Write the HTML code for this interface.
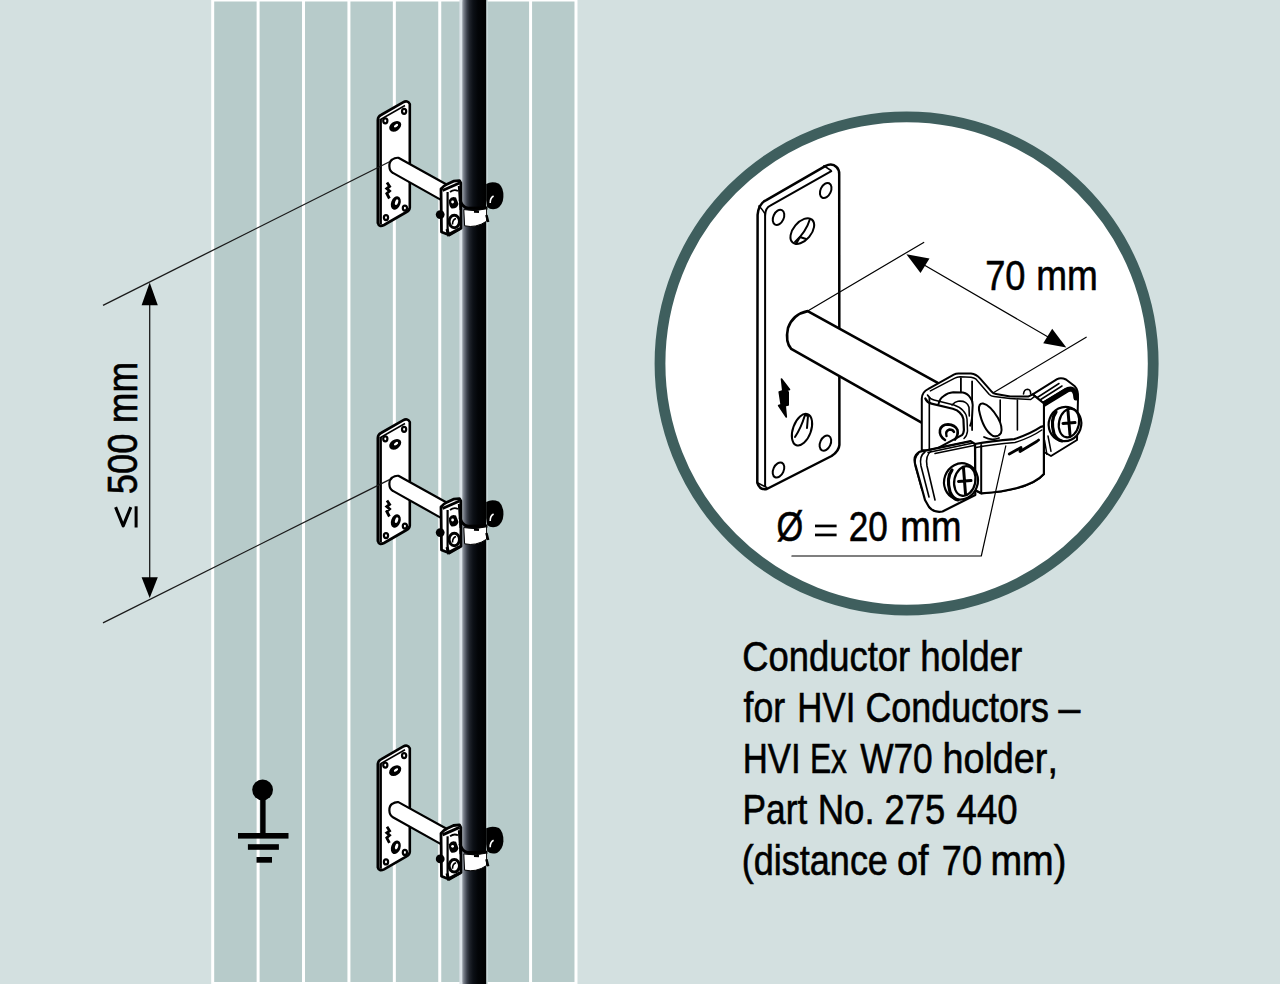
<!DOCTYPE html>
<html><head><meta charset="utf-8"><title>HVI Conductor holder</title>
<style>
html,body{margin:0;padding:0;background:#d3e0e0;}
body{width:1280px;height:984px;overflow:hidden;}
svg{display:block;}
text{font-family:"Liberation Sans",sans-serif;fill:#000;font-kerning:none;}
</style></head>
<body>
<svg width="1280" height="984" viewBox="0 0 1280 984">
<defs>
<linearGradient id="cab" x1="0" x2="1" y1="0" y2="0">
<stop offset="0" stop-color="#9a9fa9"/>
<stop offset="0.09" stop-color="#6a707b"/>
<stop offset="0.2" stop-color="#3a3f4a"/>
<stop offset="0.3" stop-color="#20242c"/>
<stop offset="0.45" stop-color="#0c1016"/>
<stop offset="0.65" stop-color="#030508"/>
<stop offset="1" stop-color="#000"/>
</linearGradient>
</defs>
<!-- background -->
<rect x="0" y="0" width="1280" height="984" fill="#d3e0e0"/>
<!-- wall -->
<rect x="211.20" y="0" width="366.28" height="984" fill="#fff"/>
<g fill="#b7cbca">
<rect x="214.20" y="1.5" width="42.41" height="980.5"/>
<rect x="259.61" y="1.5" width="42.41" height="980.5"/>
<rect x="305.02" y="1.5" width="42.41" height="980.5"/>
<rect x="350.43" y="1.5" width="42.41" height="980.5"/>
<rect x="395.84" y="1.5" width="42.41" height="980.5"/>
<rect x="441.25" y="1.5" width="42.41" height="980.5"/>
<rect x="486.66" y="1.5" width="42.41" height="980.5"/>
<rect x="532.07" y="1.5" width="42.41" height="980.5"/>
</g>
<!-- cable -->
<rect x="459.4" y="0" width="3" height="984" fill="#dce3e8"/>
<rect x="486" y="0" width="1.8" height="984" fill="#cddcdc"/>
<rect x="462.3" y="0" width="23.9" height="984" fill="url(#cab)"/>

<!-- wall brackets -->
<g id="br">
<path d="M377.8 120 Q378 116.5 381 115 L403 102.3 Q407.5 99.8 409.8 104 L409.8 207.5 Q409.5 210.5 406.5 212 L384 225 Q379 227.5 377.8 223 Z" fill="#fff" stroke="#000" stroke-width="2.6" stroke-linejoin="round"/>
<line x1="380.6" y1="119" x2="380.6" y2="224.5" stroke="#000" stroke-width="2.6"/>
<path d="M380.5 119.5 L405 105.5" stroke="#000" stroke-width="1.6" fill="none"/>
<g fill="#fff" stroke="#000" stroke-width="2.2">
<ellipse cx="385.3" cy="120.8" rx="2.1" ry="2.5"/>
<ellipse cx="404.1" cy="111.3" rx="2.1" ry="2.5"/>
<ellipse cx="386" cy="217.6" rx="2.1" ry="2.5"/>
<ellipse cx="404.9" cy="208.1" rx="2.1" ry="2.5"/>
</g>
<ellipse cx="395.2" cy="126.3" rx="6.6" ry="4.7" transform="rotate(-35 395.2 126.3)" fill="#000"/>
<ellipse cx="396" cy="125.7" rx="2.4" ry="1.3" transform="rotate(-35 396 125.7)" fill="#fff"/>
<ellipse cx="395.8" cy="203" rx="4.7" ry="7" transform="rotate(20 395.8 203)" fill="#000"/>
<ellipse cx="396.6" cy="202.2" rx="1.5" ry="3" transform="rotate(20 396.6 202.2)" fill="#fff"/>
<path d="M387 182.5 L389.6 186.5 L386.8 188.5 L389.6 191 L386.8 193.5 L389.4 198.5" fill="none" stroke="#000" stroke-width="2.8"/>
<!-- rod -->
<path d="M398.4 157.8 L447.5 185 L440.5 199.6 L392.9 172.9 C388.3 170.5 388.3 162 392.3 159.5 C394 158.2 396 157.6 398.4 157.8 Z" fill="#fff" stroke="#000" stroke-width="2.2" stroke-linejoin="round"/>
<!-- saddle -->
<path d="M441 189 Q444 185.5 447 184.3 L453.5 181.2 L459.5 180.6 L460.8 183 L461 228.3 L449.2 235 L441.5 232 Z" fill="#fff" stroke="#000" stroke-width="2.8" stroke-linejoin="round"/>
<path d="M442.5 190.5 L459.5 183" stroke="#000" stroke-width="3" fill="none"/>
<path d="M447.6 192 L447.6 233" stroke="#000" stroke-width="2.2" fill="none"/>
<path d="M450 192 Q454 189 458 191" stroke="#000" stroke-width="1.8" fill="none"/>
<path d="M449 200 Q451.5 195.5 456 197.5 L458.5 204 Q457 209 451.5 208.5 Q448.5 206 449 200 Z" fill="#000"/>
<circle cx="452.6" cy="202" r="1.4" fill="#fff"/>
<circle cx="440.2" cy="214.6" r="4.4" fill="#000"/>
<ellipse cx="454.3" cy="221.5" rx="5.2" ry="6.2" fill="#fff" stroke="#000" stroke-width="3"/>
<path d="M452.5 224.5 Q452.5 219.5 456 218.5" stroke="#000" stroke-width="1.6" fill="none"/>
<path d="M447 229 L448.5 234.5 L460 228.5" fill="none" stroke="#000" stroke-width="3"/>
<path d="M458.8 186 L460.5 210" stroke="#000" stroke-width="2" fill="none"/>
<!-- band -->
<path d="M460 199.5 Q461.5 207 468 208.3 L487.5 208" fill="none" stroke="#000" stroke-width="3"/>
<path d="M463.8 209.6 Q475 212 486.6 208.8 L486.6 221.2 Q476 228.4 464.6 225.8 Z" fill="#fff" stroke="#000" stroke-width="1"/>
<path d="M474 211.5 L479 211.8" stroke="#000" stroke-width="2.4"/>
<!-- right knob -->
<path d="M486.2 184 Q492 180.8 499 183.8 Q503.8 188 503.4 197 Q503 205 497 208.6 Q491 210.5 487.2 207 L486.2 200 Z" fill="#000"/>
<path d="M490.2 203 Q490 198 493.6 196" fill="none" stroke="#fff" stroke-width="1.6"/>
<path d="M486.4 215 L488.2 222" stroke="#000" stroke-width="2.5"/>
</g>
<use href="#br" transform="translate(0,318)"/>
<use href="#br" transform="translate(0,644.3)"/>

<!-- dimension on left -->
<g stroke="#1a1a1a" stroke-width="1.3" fill="none">
<line x1="103" y1="305.3" x2="390" y2="161.5"/>
<line x1="103" y1="622.8" x2="390" y2="479.4"/>
<line x1="149.7" y1="300" x2="149.7" y2="580"/>
</g>
<path d="M149.7 282.5 L157.8 305.3 L141.6 305.3 Z" fill="#000"/>
<path d="M149.7 598 L157.8 577.3 L141.6 577.3 Z" fill="#000"/>

<!-- inset -->
<circle cx="906.6" cy="363.5" r="246.6" fill="#fff" stroke="#3f5f5e" stroke-width="10.8"/>
<g id="inset" stroke="#000" stroke-linejoin="round" stroke-linecap="round">
<!-- plate -->
<path d="M757.6 214.9 Q758.5 203.5 766.3 200.1 L825.2 166.1 Q832 162.5 836.5 167 Q839.2 169.5 839.2 174 L839.4 444.8 Q839 451 831.6 456 L766.8 489 Q760 490.5 757.3 482.8 Z" fill="#fff" stroke-width="2.5"/>
<path d="M765.2 214.9 Q765.5 208 770.3 205.7 L831.3 171.2" fill="none" stroke-width="2"/>
<path d="M765.1 214.9 L765.1 486" fill="none" stroke-width="2"/>
<path d="M757.8 483 L766.8 487.5" fill="none" stroke-width="1.6"/>
<path d="M759 206 Q762 209 765.2 214" fill="none" stroke-width="1.6"/>
<path d="M824 165.8 L831 170.5" fill="none" stroke-width="1.6"/>
<!-- holes -->
<g fill="none" stroke-width="2">
<ellipse cx="778.5" cy="217.4" rx="5.2" ry="8" transform="rotate(25 778.5 217.4)"/>
<ellipse cx="825.7" cy="190.5" rx="5.2" ry="8" transform="rotate(25 825.7 190.5)"/>
<ellipse cx="825.4" cy="443.1" rx="5.2" ry="8" transform="rotate(25 825.4 443.1)"/>
<ellipse cx="778.5" cy="470" rx="5.2" ry="8" transform="rotate(25 778.5 470)"/>
<ellipse cx="802.3" cy="231.1" rx="15" ry="9" transform="rotate(-50 802.3 231.1)"/>
<path d="M795 242 Q806 232 810 219" />
<path d="M796 244 L800 237 L806 239"/>
<ellipse cx="802" cy="429.7" rx="16.5" ry="9" transform="rotate(-70 802 429.7)"/>
<path d="M795 437 Q801 428 805 415"/>
<path d="M805 415 L808 416 L807 428"/>
</g>
<path d="M781.5 379 L789.5 389.6 L786.5 390.6 L788.2 392 L788.2 405 L785.2 405.8 L786.3 417 L778.6 405.6 L781.2 404.8 L779.2 392 L782.8 390.8 Z" fill="#000" stroke-width="1.6"/>
<!-- extension lines 70mm -->
<g stroke-width="1.2" fill="none">
<line x1="807.7" y1="311.1" x2="923.7" y2="242.4"/>
<line x1="993.7" y1="392.5" x2="1086.2" y2="337.2"/>
<line x1="916" y1="260.3" x2="1055" y2="341"/>
</g>
<path d="M906.4 254.2 L929.5 258.5 L920.5 273 Z" fill="#000" stroke="none"/>
<path d="M1066.3 347.5 L1043.2 343.2 L1052.2 328.7 Z" fill="#000" stroke="none"/>
<!-- rod -->
<path d="M807.7 311.1 L945 386.8 L930 427.4 L791.2 348.8 Q785 342 788 328 Q793 314 807.7 311.1 Z" fill="#fff" stroke-width="2.6"/>
<!-- clamp -->
<g id="clamp" stroke-width="2" fill="#fff" stroke-linecap="round">
<!-- right ear back stack -->
<path d="M1032.7 394.4 L1057.1 379.1 Q1061 377 1066 379.5 L1074.5 386 Q1078.5 390 1078 398 L1077 440 L1051 456 L1044 452 L1043.9 403.5 Z"/>
<path d="M1034.2 399.5 L1059 383.5 M1036.8 402 L1062 386 M1039.5 404.5 L1065.5 388.6" fill="none" stroke-width="1.5"/>
<path d="M1041 406 L1068 389.5 Q1073.5 387.5 1075.5 394 L1076 398" fill="none" stroke-width="5.2"/>
<path d="M1046.9 454.3 L1044.5 440 M1051 451.3 L1048 436" fill="none" stroke-width="1.5"/>
<!-- main U body (white fill) -->
<path d="M921.8 450 L921.8 398.5 Q922 392 928.4 388.9 L953.8 374.7 Q956 373.5 959 373.6 L971 373.6 Q976 374 980.2 378.7 L991.4 391.4 Q993 393.5 996 394 L1010.3 396.4 L1028.6 396.4 L1032.7 394.4 L1043.9 403.5 L1043.9 474 Q1030 490 981.2 493.3 L975 490 L975 444 L935 452 Z"/>
<path d="M930.4 390.9 L954.8 378.2 Q957 376.8 960 376.7 L971 377.2 Q974 377.8 976.1 379.2 L989.3 394.5 Q991 396.2 994 396.5 L1010 398.5 L1030.7 399.5 L1034.7 396.4" fill="none" stroke-width="1.5"/>
<path d="M929.4 398 L929.4 449" fill="none" stroke-width="1.8"/>
<path d="M960.9 378.2 L960.9 398.5 M972.1 381.3 L972.1 430" fill="none" stroke-width="1.8"/>
<path d="M1000.2 400 L1000.2 432 M1017.4 400 L1017.4 430" fill="none" stroke-width="1.6"/>
<!-- small nub on top right -->
<path d="M1023.5 394 Q1024 389.5 1027.5 389.3 Q1030.7 389.5 1030.7 394" stroke-width="1.6"/>
<!-- bolt/washer behind front strap -->
<path d="M938.5 404 Q940 398 943.4 396.3 Q948 392.5 953.2 392.2 L962.9 392.4 Q968 393.5 970.2 397.6 Q973 401 972.7 405 L972 418.3 Q971.5 423 970.2 425.6" stroke-width="2"/>
<path d="M952 405 Q955 401.5 958 401.2 Q963 400.8 965.4 402.4 Q968 404 969 407.3 L969.3 416" fill="none" stroke-width="1.6"/>
<!-- teardrop -->
<path d="M979 410 Q978.5 403 983 403.6 Q990 405 998 418 Q1003 427 1001 433 Q998 437.5 993 436 Q983 430 979 410 Z" stroke-width="2"/>
<path d="M984 437 Q991 441 999 438" fill="none" stroke-width="1.8"/>
<!-- front S-strap -->
<path d="M925.3 398.5 L931.4 403.6 L952.8 408.7 Q957.5 410 959.9 412.8 Q963 415.5 963.4 419 L963.9 430 Q963.5 434 961.9 435.1 L935.5 449.4 L930.4 449 L930.4 404.5 Z" fill="#fff" stroke="none"/>
<path d="M925.3 398.5 Q927 402.5 931.4 403.6 L952.8 408.7 Q957.5 410 959.9 412.8 Q963 415.5 963.4 419 L963.9 430 Q963.5 434 961.9 435.1 L935.5 449.4" fill="none" stroke-width="2.2"/>
<path d="M927.5 395 Q930 399 934 400 L954 405 Q960 407 963 410.5 Q966.5 414 967 419 L967.5 431 Q967 436 964 438.5" fill="none" stroke-width="1.5"/>
<path d="M945 440 Q939 436 940 430 Q941.5 424.5 948 424.4 Q955 424.8 957.5 430 Q958.5 435 955 439.5" fill="none" stroke-width="2.6"/>
<path d="M946.5 436 Q945 431 949.5 429.5 Q953 429.5 954 432" fill="none" stroke-width="2.4"/>
<!-- ring front band -->
<path d="M975 444 Q990 441 1014.4 439.1 Q1030 434 1040.8 426.9 L1043.9 426 L1043.9 474 Q1030 490 981.2 493.3 L975 490 Z" stroke-width="2.2"/>
<path d="M976 447.5 Q992 444.5 1015 442.5 Q1031 437.5 1041.8 430" fill="none" stroke-width="1.5"/>
<path d="M981.2 445 L981.2 493.3" fill="none" stroke-width="2"/>
<path d="M1009.3 454 L1021 447.5 L1020 451.5 L1036.7 441.5 L1038.6 440" fill="none" stroke-width="2.8"/>
<!-- left ear stack -->
<path d="M975.3 495.1 L942.5 511.5 Q934 513 929 507 L925 500 L916 467 Q913 459 916 455 Q919 451 923 451.1 L970.6 441.2 L975 444 Z" stroke-width="2.2"/>
<path d="M918.5 453.5 Q913.5 458 915.5 467 L922 490 M925 452 Q919 456 921 466 L929 497 M931 451 Q925 456 927 466 L935 500" fill="none" stroke-width="1.6"/>
<path d="M923 451.1 L970.6 441.2 M928 452.5 L973 443 M935 453.5 L974 445.5" fill="none" stroke-width="1.5"/>
<!-- left screw -->
<ellipse cx="961" cy="481.4" rx="16.8" ry="18.3" transform="rotate(20 961 481.4)" stroke-width="2.2"/>
<path d="M952 470 Q946 478 950 492 Q953 499 958 500" fill="none" stroke-width="3.2"/>
<ellipse cx="964.8" cy="481" rx="10.5" ry="15" transform="rotate(12 964.8 481)" fill="none" stroke-width="2.2"/>
<path d="M963.5 468 L965.5 494 M958.5 481.5 L971 480.5" fill="none" stroke-width="3"/>
<!-- right screw -->
<ellipse cx="1065" cy="424" rx="16.2" ry="17.3" transform="rotate(20 1065 424)" stroke-width="2.2"/>
<path d="M1056 412 Q1050 420 1054 434 Q1057 440 1062 441" fill="none" stroke-width="3.2"/>
<ellipse cx="1069" cy="423" rx="10" ry="14.5" transform="rotate(12 1069 423)" fill="none" stroke-width="2.2"/>
<path d="M1068 411 L1070 435 M1063 423.5 L1075 422.5" fill="none" stroke-width="3"/>
</g>
<!-- leader for diameter -->
<path d="M1005.8 445.9 L981.3 556 L791.9 556" fill="none" stroke-width="1.2"/>
</g>

<!-- texts -->
<g font-size="42.2" class="t" stroke="#000" stroke-width="0.6">
<text lengthAdjust="spacingAndGlyphs" x="742.25" y="670.7" textLength="167.85">Conductor</text>
<text lengthAdjust="spacingAndGlyphs" x="920.15" y="670.7" textLength="102.16">holder</text>
<text lengthAdjust="spacingAndGlyphs" x="743.60" y="722.0" textLength="41.60">for</text>
<text lengthAdjust="spacingAndGlyphs" x="797.35" y="722.0" textLength="57.96">HVI</text>
<text lengthAdjust="spacingAndGlyphs" x="865.38" y="722.0" textLength="183.52">Conductors</text>
<text lengthAdjust="spacingAndGlyphs" x="1058.60" y="722.0" textLength="21.82">–</text>
<text lengthAdjust="spacingAndGlyphs" x="742.65" y="773.4" textLength="57.96">HVI</text>
<text lengthAdjust="spacingAndGlyphs" x="809.90" y="773.4" textLength="37.05">Ex</text>
<text lengthAdjust="spacingAndGlyphs" x="860.14" y="773.4" textLength="72.64">W70</text>
<text lengthAdjust="spacingAndGlyphs" x="942.48" y="773.4" textLength="115.41">holder,</text>
<text lengthAdjust="spacingAndGlyphs" x="742.61" y="824.4" textLength="64.65">Part</text>
<text lengthAdjust="spacingAndGlyphs" x="817.70" y="824.4" textLength="56.94">No.</text>
<text lengthAdjust="spacingAndGlyphs" x="884.47" y="824.4" textLength="60.76">275</text>
<text lengthAdjust="spacingAndGlyphs" x="956.56" y="824.4" textLength="61.07">440</text>
<text lengthAdjust="spacingAndGlyphs" x="741.87" y="875.0" textLength="146.03">(distance</text>
<text lengthAdjust="spacingAndGlyphs" x="897.01" y="875.0" textLength="31.64">of</text>
<text lengthAdjust="spacingAndGlyphs" x="941.85" y="875.0" textLength="40.16">70</text>
<text lengthAdjust="spacingAndGlyphs" x="990.38" y="875.0" textLength="75.98">mm)</text>
<text lengthAdjust="spacingAndGlyphs" x="985.14" y="289.8" textLength="40.27">70</text>
<text lengthAdjust="spacingAndGlyphs" x="1036.14" y="289.8" textLength="61.59">mm</text>
<text lengthAdjust="spacingAndGlyphs" x="848.73" y="541.0" textLength="39.04">20</text>
<text lengthAdjust="spacingAndGlyphs" x="900.37" y="541.0" textLength="61.05">mm</text>
<text lengthAdjust="spacingAndGlyphs" x="776.61" y="541" textLength="26.75">Ø</text>
<text lengthAdjust="spacingAndGlyphs" transform="rotate(-90)" x="-494.15" y="136.5" textLength="60.57">500</text>
<text lengthAdjust="spacingAndGlyphs" transform="rotate(-90)" x="-423.25" y="136.5" textLength="61.37">mm</text>
</g>
<rect x="815" y="524.6" width="21.6" height="2.7"/>
<rect x="815" y="533.6" width="21.6" height="2.7"/>
<path d="M115.6 507.2 L123.2 525.8 L130.8 507.2" fill="none" stroke="#000" stroke-width="3.1" stroke-linejoin="round"/>
<rect x="134.6" y="506.3" width="3" height="21.2"/>

<!-- ground symbol -->
<g fill="#000">
<circle cx="262.6" cy="789.8" r="10.4"/>
<rect x="260.2" y="795" width="5.4" height="40"/>
<rect x="238" y="833" width="50.5" height="5.6"/>
<rect x="247.9" y="844.2" width="31" height="5.6"/>
<rect x="256.5" y="857" width="15.5" height="5.7"/>
</g>

</svg>
</body></html>
